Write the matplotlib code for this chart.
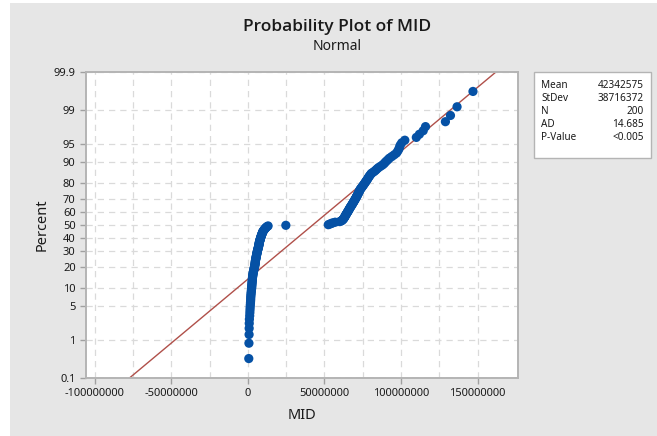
import matplotlib
matplotlib.use("Agg")
import matplotlib.pyplot as plt
from matplotlib.patches import Rectangle
from statistics import NormalDist

plt.rcParams['font.family'] = ['Noto Sans', 'DejaVu Sans']
plt.rcParams['axes.unicode_minus'] = False

# MID values in millions, sorted
mid_low = [0.6, 0.7, 0.8, 0.85, 0.9, 1.0, 1.2, 1.3, 1.4, 1.5,
           1.6, 1.7, 1.8, 1.85, 1.9, 2.0, 2.1, 2.2, 2.3, 2.4,
           2.5, 2.55, 2.6, 2.7, 2.75, 2.8, 2.9, 2.95, 3.0, 3.1,
           3.2, 3.3, 3.4, 3.5, 3.6, 3.8, 3.9, 4.0, 4.2, 4.3, 4.4, 4.6,
           4.65, 4.7, 4.8, 4.85, 4.9, 5.0, 5.1, 5.2,
           5.3, 5.4, 5.5, 5.6, 5.7, 5.8, 5.9, 6.0, 6.1, 6.2, 6.3, 6.4, 6.55, 6.7,
           6.8, 6.9, 7.0, 7.1, 7.2, 7.3, 7.35, 7.4, 7.5, 7.6, 7.7,
           7.85, 8.0, 8.1, 8.2, 8.35, 8.5, 8.6, 8.75, 8.9,
           9.05, 9.2, 9.35, 9.5, 9.65, 9.8,
           10.1, 10.4, 10.7, 11.0, 11.3, 11.7, 12.1, 12.6, 13.2]
mid_gap = [24.8]
mid_high = [52.5, 53.5, 54.5, 55.5, 57.0, 60.0, 61.0,
            61.5, 62.0, 62.3, 62.6, 62.9, 63.1, 63.4, 63.6, 63.8,
            64.0, 64.3, 64.6, 64.8, 65.0, 65.3, 65.6, 65.8, 66.0, 66.3, 66.5, 66.8, 67.0,
            67.3, 67.6, 67.9, 68.1, 68.4, 68.7, 68.9, 69.2, 69.5, 69.7, 70.0, 70.3, 70.5,
            70.8, 71.0, 71.3, 71.5, 71.8, 72.0, 72.3, 72.5, 72.8, 73.0, 73.2,
            73.6, 74.0, 74.4, 74.8, 75.2, 75.6, 76.0, 76.4,
            76.8, 77.2, 77.6, 78.0, 78.4, 78.8, 79.2, 79.7, 80.2, 80.7,
            81.8, 82.8, 83.6, 84.4, 85.3,
            86.5, 87.8, 88.8, 89.6,
            90.5, 91.5, 92.5, 94.0, 95.5, 97.0,
            97.8, 98.5, 99.0, 99.5, 100.5,
            102.5, 110.0, 112.0, 114.5, 116.0, 129.0, 132.3, 136.6, 147.0]

mean_val = 42342575
sd_val = 38716372
stat_names = ['Mean', 'StDev', 'N', 'AD', 'P-Value']
stat_values = ['42342575', '38716372', '200', '14.685', '<0.005']

pct_ticks = [0.1, 1, 5, 10, 20, 30, 40, 50, 60, 70, 80, 90, 95, 99, 99.9]
x_ticks = [-100000000, -50000000, 0, 50000000, 100000000, 150000000]
x_grid = [-100000000, -75000000, -50000000, -25000000, 0, 25000000, 50000000,
          75000000, 100000000, 125000000, 150000000]

nd = NormalDist()
mid = [v * 1e6 for v in mid_low + mid_gap + mid_high]
n = len(mid)
zs = [nd.inv_cdf((i + 1 - 0.3) / (n + 0.4)) for i in range(n)]
zlim = nd.inv_cdf(0.001)

fig = plt.figure(figsize=(6.57, 4.36), dpi=100)
fig.patch.set_facecolor('white')
fig.patches.append(Rectangle((10 / 657, 0), 1, 433 / 436, transform=fig.transFigure,
                             facecolor='#e6e6e6', edgecolor='none', zorder=-10))

ax = fig.add_axes([86 / 657, 58 / 436, 432 / 657, 306 / 436])
ax.set_facecolor('white')

for g in x_grid:
    ax.axvline(g, color='#dadada', lw=0.9, ls=(0, (5, 4)), zorder=0)
for p in pct_ticks:
    ax.axhline(nd.inv_cdf(p / 100), color='#dadada', lw=0.9, ls=(0, (5, 4)), zorder=0)

# fitted normal line
ax.plot([mean_val + sd_val * zlim, mean_val - sd_val * zlim], [zlim, -zlim],
        color='#b0504a', lw=1.0, zorder=2)
ax.scatter(mid, zs, s=44, color='#0551a5', edgecolors='none', zorder=3)

ax.set_xlim(-105.7e6, 176.4e6)
ax.set_ylim(zlim, -zlim)
ax.set_xticks(x_ticks)
ax.set_xticklabels([str(v) for v in x_ticks])
ax.set_yticks([nd.inv_cdf(p / 100) for p in pct_ticks])
ax.set_yticklabels([('%g' % p) for p in pct_ticks])
ax.tick_params(labelsize=8, colors='#a0a0a0', labelcolor='#1a1a1a', length=4, width=1)
for s in ax.spines.values():
    s.set_color('#b4b4b4')
    s.set_linewidth(1.4)

ax.set_xlabel('MID', fontsize=10.5, color='#1a1a1a', labelpad=6)
ax.set_ylabel('Percent', fontsize=10.5, color='#1a1a1a', labelpad=3)

fig.text(0.513, 0.939, 'Probability Plot of MID', ha='center', va='center',
         fontsize=12.5, color='#1a1a1a', family=['Open Sans', 'DejaVu Sans'],
         fontweight='semibold')
fig.text(0.513, 0.893, 'Normal', ha='center', va='center', fontsize=10, color='#1a1a1a')

# stats box
fig.patches.append(Rectangle((534 / 657, 1 - 158 / 436), 117 / 657, 86 / 436,
                             transform=fig.transFigure, facecolor='white',
                             edgecolor='#b4b4b4', lw=1.0))
for k, (nm, val) in enumerate(zip(stat_names, stat_values)):
    yy = 1 - (85 + 13.1 * k) / 436
    fig.text(541 / 657, yy, nm, ha='left', va='center', fontsize=7.2, color='#1a1a1a')
    fig.text(644 / 657, yy, val, ha='right', va='center', fontsize=7.2, color='#1a1a1a')

fig.savefig('out.png', dpi=100)
